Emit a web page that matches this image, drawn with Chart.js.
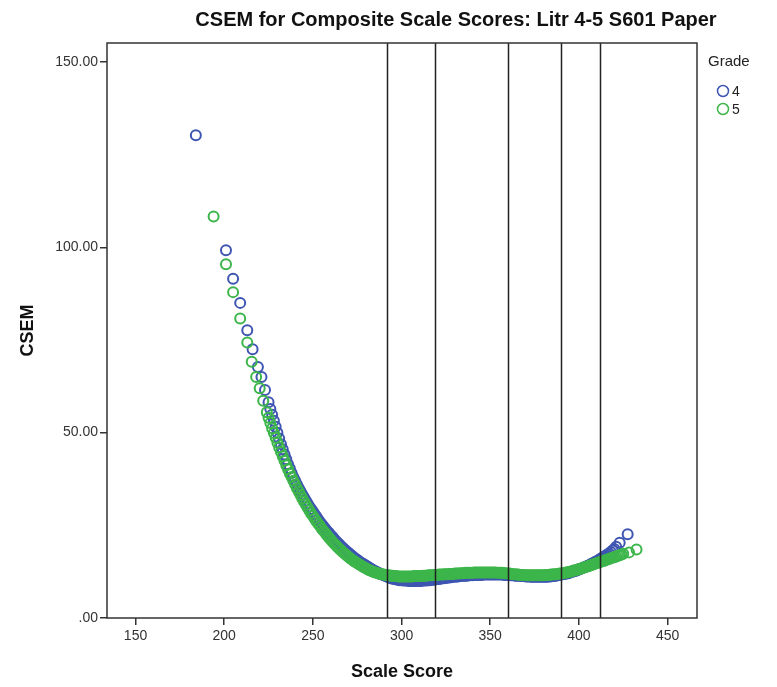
<!DOCTYPE html>
<html>
<head>
<meta charset="utf-8">
<script src="https://cdn.jsdelivr.net/npm/chart.js@4"></script>
<style>
  body { margin: 0; background: #fff; }
  canvas { display: block; }
</style>
</head>
<body>
<canvas id="chart" width="777" height="687"></canvas>
<script>
// data (scale score, CSEM)
const grade4Scores = [184, 201, 205, 209, 213, 216, 219, 221, 223, 225, 226, 227, 228, 229, 230, 231, 232, 233, 234, 235, 236, 237, 238, 239,
  240, 241, 242, 243, 244, 245, 246, 247, 248, 249, 250, 251, 252, 253, 254, 255, 256, 257, 258, 259,
  260, 261, 262, 263, 264, 265, 266, 267, 268, 269, 270, 271, 272, 273, 274, 275, 276, 277, 278, 279,
  280, 281, 282, 283, 284, 285, 286, 287, 288, 289, 290, 291, 292, 293, 294, 295, 296, 297, 298, 299,
  300, 301, 302, 303, 304, 305, 306, 307, 308, 309, 310, 311, 312, 313, 314, 315, 316, 317, 318, 319,
  320, 321, 322, 323, 324, 325, 326, 327, 328, 329, 330, 331, 332, 333, 334, 335, 336, 337, 338, 339,
  340, 341, 342, 343, 344, 345, 346, 347, 348, 349, 350, 351, 352, 353, 354, 355, 356, 357, 358, 359,
  360, 361, 362, 363, 364, 365, 366, 367, 368, 369, 370, 371, 372, 373, 374, 375, 376, 377, 378, 379,
  380, 381, 382, 383, 384, 385, 386, 387, 388, 389, 390, 391, 392, 393, 394, 395, 396, 397, 398, 399,
  400, 401, 402, 403, 404, 405, 406, 407, 408, 409, 410, 411, 412, 413, 414, 415, 416, 417, 418, 419,
  420, 421, 423, 427.5];
const grade4Csem = [130.2, 99.2, 91.5, 85.0, 77.6, 72.5, 67.7, 65.0, 61.5, 58.2, 56.4, 54.8, 53.2, 51.6, 50.0, 48.4, 46.9, 45.5, 44.1, 42.8, 41.5, 40.3, 39.1, 38.0,
  37.0, 36.0, 35.1, 34.2, 33.3, 32.5, 31.7, 30.9, 30.1, 29.4, 28.7, 28.0, 27.3, 26.6, 25.9, 25.3, 24.7, 24.1, 23.5, 23.0,
  22.4, 21.9, 21.3, 20.8, 20.3, 19.8, 19.3, 18.9, 18.4, 18.0, 17.6, 17.2, 16.8, 16.4, 16.0, 15.7, 15.3, 15.0, 14.7, 14.4,
  14.1, 13.8, 13.5, 13.2, 12.9, 12.7, 12.4, 12.2, 11.9, 11.7, 11.5, 11.3, 11.1, 10.9, 10.7, 10.6, 10.5, 10.4, 10.3, 10.2,
  10.2, 10.1, 10.1, 10.1, 10.0, 10.0, 10.0, 10.0, 10.0, 10.0, 10.0, 10.0, 10.1, 10.1, 10.1, 10.2, 10.2, 10.3, 10.3, 10.4,
  10.5, 10.5, 10.6, 10.7, 10.7, 10.8, 10.9, 10.9, 11.0, 11.1, 11.1, 11.2, 11.2, 11.3, 11.3, 11.4, 11.4, 11.4, 11.5, 11.5,
  11.5, 11.6, 11.6, 11.6, 11.6, 11.6, 11.7, 11.7, 11.7, 11.7, 11.7, 11.7, 11.7, 11.7, 11.7, 11.7, 11.7, 11.7, 11.6, 11.6,
  11.6, 11.5, 11.5, 11.5, 11.4, 11.4, 11.4, 11.3, 11.3, 11.3, 11.2, 11.2, 11.2, 11.1, 11.1, 11.1, 11.1, 11.1, 11.1, 11.1,
  11.1, 11.1, 11.1, 11.2, 11.2, 11.3, 11.3, 11.4, 11.5, 11.6, 11.7, 11.8, 11.9, 12.0, 12.1, 12.3, 12.4, 12.6, 12.7, 12.9,
  13.1, 13.3, 13.5, 13.7, 13.9, 14.1, 14.3, 14.6, 14.8, 15.1, 15.3, 15.6, 15.9, 16.2, 16.5, 16.8, 17.1, 17.4, 17.8, 18.2,
  18.6, 19.2, 20.3, 22.6];

const grade5Scores = [194, 201, 205, 209, 213, 215.5, 218, 220, 222, 224, 225, 226, 227, 228, 229, 230, 231, 232, 233, 234, 235, 236, 237, 238, 239,
  240, 241, 242, 243, 244, 245, 246, 247, 248, 249, 250, 251, 252, 253, 254, 255, 256, 257, 258, 259,
  260, 261, 262, 263, 264, 265, 266, 267, 268, 269, 270, 271, 272, 273, 274, 275, 276, 277, 278, 279,
  280, 281, 282, 283, 284, 285, 286, 287, 288, 289, 290, 291, 292, 293, 294, 295, 296, 297, 298, 299,
  300, 301, 302, 303, 304, 305, 306, 307, 308, 309, 310, 311, 312, 313, 314, 315, 316, 317, 318, 319,
  320, 321, 322, 323, 324, 325, 326, 327, 328, 329, 330, 331, 332, 333, 334, 335, 336, 337, 338, 339,
  340, 341, 342, 343, 344, 345, 346, 347, 348, 349, 350, 351, 352, 353, 354, 355, 356, 357, 358, 359,
  360, 361, 362, 363, 364, 365, 366, 367, 368, 369, 370, 371, 372, 373, 374, 375, 376, 377, 378, 379,
  380, 381, 382, 383, 384, 385, 386, 387, 388, 389, 390, 391, 392, 393, 394, 395, 396, 397, 398, 399,
  400, 401, 402, 403, 404, 405, 406, 407, 408, 409, 410, 411, 412, 413, 414, 415, 416, 417, 418, 419,
  420, 421, 422, 423, 424, 425, 428.3, 432.5];
const grade5Csem = [108.3, 95.4, 87.9, 80.8, 74.3, 69.1, 65.0, 62.0, 58.6, 55.5, 54.0, 52.6, 51.2, 49.9, 48.6, 47.3, 46.0, 44.8, 43.6, 42.4, 41.2, 40.1, 39.0, 38.0, 37.0,
  36.0, 35.0, 34.1, 33.2, 32.3, 31.4, 30.6, 29.8, 29.0, 28.2, 27.5, 26.8, 26.1, 25.4, 24.8, 24.1, 23.5, 22.9, 22.3, 21.7,
  21.2, 20.6, 20.1, 19.6, 19.1, 18.6, 18.2, 17.7, 17.3, 16.9, 16.5, 16.1, 15.8, 15.4, 15.1, 14.8, 14.5, 14.2, 13.9, 13.6,
  13.4, 13.1, 12.9, 12.7, 12.5, 12.3, 12.2, 12.0, 11.9, 11.8, 11.7, 11.6, 11.5, 11.5, 11.4, 11.4, 11.3, 11.3, 11.2, 11.2,
  11.2, 11.2, 11.2, 11.2, 11.2, 11.2, 11.2, 11.3, 11.3, 11.3, 11.3, 11.3, 11.4, 11.4, 11.4, 11.5, 11.5, 11.5, 11.6, 11.6,
  11.6, 11.7, 11.7, 11.7, 11.8, 11.8, 11.8, 11.9, 11.9, 11.9, 12.0, 12.0, 12.0, 12.1, 12.1, 12.1, 12.2, 12.2, 12.2, 12.2,
  12.2, 12.3, 12.3, 12.3, 12.3, 12.3, 12.3, 12.3, 12.3, 12.3, 12.3, 12.3, 12.3, 12.3, 12.2, 12.2, 12.2, 12.2, 12.1, 12.1,
  12.0, 12.0, 11.9, 11.8, 11.8, 11.7, 11.7, 11.6, 11.6, 11.6, 11.5, 11.5, 11.5, 11.5, 11.5, 11.5, 11.5, 11.5, 11.5, 11.5,
  11.5, 11.6, 11.6, 11.6, 11.7, 11.7, 11.8, 11.8, 11.9, 12.0, 12.0, 12.1, 12.2, 12.3, 12.4, 12.5, 12.6, 12.8, 12.9, 13.0,
  13.2, 13.3, 13.5, 13.6, 13.8, 13.9, 14.1, 14.3, 14.4, 14.6, 14.8, 14.9, 15.1, 15.3, 15.4, 15.6, 15.8, 15.9, 16.1, 16.3,
  16.4, 16.6, 16.8, 16.9, 17.1, 17.3, 17.7, 18.5];

// vertical cut lines
const cutScores = [292, 319, 360, 390, 412];

const xTicks = [150, 200, 250, 300, 350, 400, 450];
const yTicks = [0, 50, 100, 150];

const gradeLabels = ['4', '5'];
const gradeColors = ['#3e55b2', '#3cb54a'];

const titleText = 'CSEM for Composite Scale Scores: Litr 4-5 S601 Paper';

function toPoints(xs, ys) {
  const pts = [];
  for (let i = 0; i < xs.length; i++) {
    pts.push({ x: xs[i], y: ys[i] });
  }
  return pts;
}

// frame, cut lines, title and legend
const extras = {
  id: 'extras',
  afterDatasetsDraw(chart) {
    const ctx = chart.ctx;
    const area = chart.chartArea;
    const xs = chart.scales.x;
    ctx.save();
    ctx.strokeStyle = '#222';
    ctx.lineWidth = 1.5;
    cutScores.forEach(v => {
      const px = Math.round(xs.getPixelForValue(v)) + 0.5;
      ctx.beginPath();
      ctx.moveTo(px, area.top);
      ctx.lineTo(px, area.bottom);
      ctx.stroke();
    });
    ctx.strokeStyle = '#333';
    ctx.strokeRect(area.left, area.top, area.right - area.left, area.bottom - area.top);
    ctx.restore();
  },
  afterDraw(chart) {
    const ctx = chart.ctx;
    ctx.save();
    ctx.fillStyle = '#111';
    ctx.font = 'bold 20px "Liberation Sans", Arial, sans-serif';
    ctx.textAlign = 'center';
    ctx.textBaseline = 'middle';
    ctx.fillText(titleText, 456, 20);

    ctx.textAlign = 'left';
    ctx.fillStyle = '#222';
    ctx.font = '15px "Liberation Sans", Arial, sans-serif';
    ctx.fillText('Grade', 708, 62);
    ctx.font = '14px "Liberation Sans", Arial, sans-serif';
    gradeLabels.forEach((lab, i) => {
      const cy = 91 + i * 18;
      ctx.beginPath();
      ctx.arc(723, cy, 5.5, 0, Math.PI * 2);
      ctx.strokeStyle = gradeColors[i];
      ctx.lineWidth = 1.5;
      ctx.stroke();
      ctx.fillStyle = '#222';
      ctx.fillText(lab, 732, cy + 1);
    });
    ctx.restore();
  }
};

new Chart(document.getElementById('chart'), {
  type: 'scatter',
  data: {
    datasets: [{
      label: gradeLabels[0],
      data: toPoints(grade4Scores, grade4Csem),
      borderColor: gradeColors[0],
      backgroundColor: 'rgba(0,0,0,0)',
      pointRadius: 5,
      borderWidth: 2,
      order: 2
    }, {
      label: gradeLabels[1],
      data: toPoints(grade5Scores, grade5Csem),
      borderColor: gradeColors[1],
      backgroundColor: 'rgba(0,0,0,0)',
      pointRadius: 5,
      borderWidth: 2,
      order: 1
    }]
  },
  options: {
    responsive: false,
    animation: false,
    layout: { padding: { top: 43, right: 80, left: 0, bottom: 0 } },
    plugins: {
      legend: { display: false },
      tooltip: { enabled: false }
    },
    scales: {
      x: {
        type: 'linear',
        min: 133.9,
        max: 466.6,
        afterBuildTicks: scale => { scale.ticks = xTicks.map(v => ({ value: v })); },
        afterFit: scale => { scale.height = 69; },
        grid: { drawOnChartArea: false, drawTicks: true, tickLength: 7, color: '#333', lineWidth: 1.5 },
        border: { display: false },
        ticks: { color: '#333', padding: 3, font: { size: 14, family: '"Liberation Sans", Arial, sans-serif' } },
        title: { display: true, text: 'Scale Score', color: '#111', font: { size: 18, weight: 'bold', family: '"Liberation Sans", Arial, sans-serif' }, padding: { bottom: 4 } }
      },
      y: {
        type: 'linear',
        min: 0,
        max: 155.1,
        afterBuildTicks: scale => { scale.ticks = yTicks.map(v => ({ value: v })); },
        afterFit: scale => { scale.width = 107; },
        grid: { drawOnChartArea: false, drawTicks: true, tickLength: 7, color: '#333', lineWidth: 1.5 },
        border: { display: false },
        ticks: {
          color: '#333',
          padding: 2,
          font: { size: 14, family: '"Liberation Sans", Arial, sans-serif' },
          callback: v => (v === 0 ? '.00' : v.toFixed(2))
        },
        title: { display: true, text: 'CSEM', color: '#111', font: { size: 18, weight: 'bold', family: '"Liberation Sans", Arial, sans-serif' }, padding: { top: 17 } }
      }
    }
  },
  plugins: [extras]
});
</script>
</body>
</html>
